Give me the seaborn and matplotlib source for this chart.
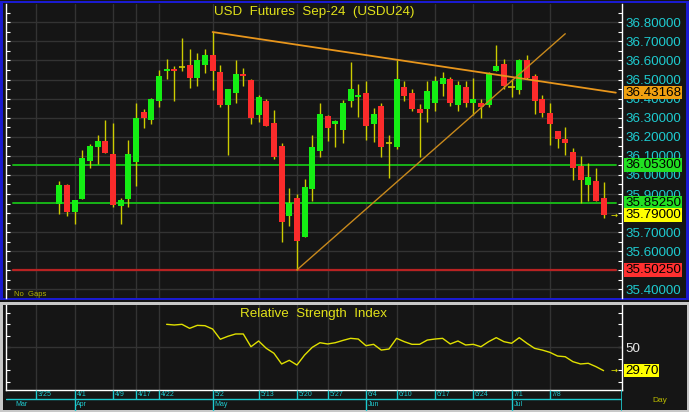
import matplotlib
matplotlib.use("Agg")
import matplotlib.pyplot as plt
import matplotlib.transforms as mtransforms
from matplotlib.patches import Rectangle
from matplotlib.ticker import MultipleLocator, FixedLocator, FixedFormatter, FormatStrFormatter
import numpy as np
import pandas as pd
import seaborn as sns

# ---------------- data ----------------
opens = [35.847, 35.947, 35.807, 35.875, 36.074, 36.147, 36.179, 36.109, 35.837, 35.875,
         36.067, 36.329, 36.287, 36.386, 36.545, 36.557, 36.568, 36.578, 36.509, 36.578,
         36.631, 36.540, 36.365, 36.427, 36.531, 36.500, 36.313, 36.390, 36.270, 36.151,
         35.786, 35.877, 35.676, 35.926, 36.126, 36.310, 36.266, 36.235, 36.386, 36.407,
         36.430, 36.266, 36.360, 36.168, 36.147, 36.461, 36.430, 36.348, 36.348, 36.378,
         36.475, 36.502, 36.365, 36.460, 36.378, 36.379, 36.365, 36.545, 36.580, 36.461,
         36.444, 36.601, 36.519, 36.397, 36.327, 36.229, 36.187, 36.121, 36.048, 35.947,
         35.969, 35.877]
highs = [35.969, 35.950, 35.870, 36.130, 36.161, 36.208, 36.290, 36.270, 35.879, 36.182,
         36.379, 36.348, 36.404, 36.549, 36.610, 36.570, 36.720, 36.662, 36.641, 36.659,
         36.749, 36.578, 36.449, 36.601, 36.561, 36.502, 36.418, 36.400, 36.339, 36.170,
         35.929, 35.899, 35.978, 36.208, 36.379, 36.312, 36.290, 36.392, 36.592, 36.479,
         36.491, 36.351, 36.379, 36.208, 36.604, 36.491, 36.449, 36.371, 36.491, 36.519,
         36.540, 36.514, 36.491, 36.491, 36.510, 36.400, 36.540, 36.680, 36.610, 36.505,
         36.610, 36.631, 36.531, 36.421, 36.379, 36.231, 36.252, 36.139, 36.100, 36.060,
         36.039, 35.961]
lows = [35.795, 35.786, 35.742, 35.873, 36.037, 36.055, 36.114, 35.833, 35.742, 35.833,
        35.943, 36.248, 36.266, 36.357, 36.505, 36.386, 36.545, 36.456, 36.467, 36.536,
        36.447, 36.357, 36.104, 36.378, 36.467, 36.266, 36.278, 36.257, 36.086, 35.646,
        35.734, 35.5025, 35.676, 35.865, 36.095, 36.177, 36.147, 36.165, 36.357, 36.304,
        36.182, 36.174, 36.095, 35.985, 36.138, 36.386, 36.334, 36.095, 36.278, 36.334,
        36.414, 36.360, 36.336, 36.357, 36.313, 36.296, 36.357, 36.545, 36.453, 36.406,
        36.423, 36.505, 36.317, 36.304, 36.156, 36.139, 36.104, 35.973, 35.854, 35.865,
        35.865, 35.776]
closes = [35.947, 35.807, 35.868, 36.090, 36.151, 36.179, 36.116, 35.845, 35.868, 36.109,
          36.299, 36.296, 36.400, 36.519, 36.557, 36.545, 36.568, 36.509, 36.601, 36.631,
          36.545, 36.365, 36.449, 36.530, 36.517, 36.296, 36.409, 36.257, 36.095, 35.755,
          35.851, 35.655, 35.938, 36.147, 36.318, 36.247, 36.282, 36.379, 36.449, 36.421,
          36.257, 36.318, 36.147, 36.168, 36.502, 36.414, 36.348, 36.325, 36.439, 36.491,
          36.510, 36.378, 36.470, 36.378, 36.400, 36.357, 36.528, 36.570, 36.465, 36.461,
          36.601, 36.509, 36.386, 36.327, 36.266, 36.187, 36.168, 36.037, 35.976, 35.987,
          35.865, 35.790]

rsi_first_index = 14
rsi_values = [70.0, 69.4, 70.0, 66.5, 69.1, 68.8, 65.9, 57.0, 59.6, 61.6,
              61.6, 50.5, 55.5, 49.1, 44.8, 35.5, 38.7, 34.6, 43.3, 50.0,
              54.0, 52.9, 54.0, 56.0, 57.8, 57.2, 51.4, 52.6, 47.6, 48.5,
              57.8, 54.9, 52.6, 52.6, 56.3, 57.2, 57.8, 52.9, 55.5, 52.0,
              52.6, 50.5, 54.9, 58.4, 54.9, 53.5, 58.4, 53.5, 49.1, 47.6,
              45.6, 42.4, 41.8, 37.5, 35.5, 36.1, 33.2, 29.7]

date_labels = ['3/25', '4/1', '4/9', '4/17', '4/22', '5/2', '5/13', '5/20', '5/27',
               '6/4', '6/10', '6/17', '6/24', '7/1', '7/8']
date_positions = [-3, 2, 7, 10, 13, 20, 26, 31, 35, 40, 44, 49, 54, 59, 64]
month_labels = ['Mar', 'Apr', 'May', 'Jun', 'Jul']
month_positions = [-6, 2, 20, 40, 59]

support_levels = [36.053, 35.8525]
support_labels = ['36.05300', '35.85250']
low_level = 35.5025
low_label = '35.50250'
last_label = '35.79000'
trend_down_idx = [20, 44]
trend_down_px = [36.749, 36.604]
trend_down_label = '36.43168'
trend_down_label_value = 36.43168
trend_up_idx = [31, 66]
trend_up_px = [35.5025, 36.74]
rsi_label = '29.70'

title = 'USD  Futures  Sep-24  (USDU24)'
rsi_title = 'Relative  Strength  Index'

# ---------------- style ----------------
sns.set_style('dark')
plt.rcParams['font.family'] = ['Liberation Sans', 'DejaVu Sans']

BG = '#151515'
GRID = '#333333'
GREEN = '#14ee14'
RED = '#fb2b2b'
WICK = '#cccc00'
CYAN = '#1ecbd0'
YELLOW = '#e2e21a'

W, H = 689, 412
fig = plt.figure(figsize=(W / 100, H / 100), dpi=100)
fig.patch.set_facecolor(BG)


def px_axes(x0, y0, x1, y1, z=0):
    a = fig.add_axes([x0 / W, 1 - y1 / H, (x1 - x0) / W, (y1 - y0) / H])
    a.set_zorder(z)
    return a


# frames
bg = px_axes(0, 0, W, H, z=-5)
bg.set_xlim(0, W)
bg.set_ylim(H, 0)
bg.axis('off')
bg.add_patch(Rectangle((0, 0.5), W, 299.5, fc='#1a1ad0', ec='none'))
bg.add_patch(Rectangle((2.5, 3.2), W - 5.5, 294.8, fc=BG, ec='none'))
bg.add_patch(Rectangle((0, 302), W, H - 302, fc='#c8c8c8', ec='none'))
bg.add_patch(Rectangle((2.5, 304.5), W - 5, H - 306.5, fc=BG, ec='none'))

FIRST_X, STEP = 59.3, 7.666
PX_L, PX_R = 6, 622
xlim = ((PX_L - FIRST_X) / STEP, (PX_R - FIRST_X) / STEP)

# ---------------- price panel ----------------
ax = px_axes(PX_L, 3.5, PX_R, 297.5, z=1)
ax.set_facecolor(BG)
ax.set_xlim(*xlim)
ax.set_ylim(35.3577, 36.8985)

ax.set_xticks(date_positions)
ax.tick_params(axis='x', length=0, labelbottom=False)
ax.yaxis.set_major_locator(MultipleLocator(0.1))
ax.yaxis.set_minor_locator(MultipleLocator(0.05))
ax.yaxis.set_major_formatter(FormatStrFormatter('%.5f'))
ax.yaxis.set_ticks_position('both')
ax.tick_params(axis='y', which='both', direction='in', length=3, width=0.8, color='white',
               labelleft=False, labelright=True, labelcolor=CYAN, labelsize=9.6, pad=2.2)
ax.grid(True, which='major', color=GRID, lw=1)
for s in ['top', 'bottom']:
    ax.spines[s].set_visible(False)
for s in ['left', 'right']:
    ax.spines[s].set_visible(True)
    ax.spines[s].set_color('white')
    ax.spines[s].set_linewidth(1)

df = pd.DataFrame({'o': opens, 'h': highs, 'l': lows, 'c': closes})
df['i'] = np.arange(len(df))
up = df.c > df.o
dn = df.c < df.o
dj = df.c == df.o
ax.vlines(df.i, df.l, df.h, color=WICK, lw=1, zorder=3)
ax.bar(df.i[up], (df.c - df.o)[up], bottom=df.o[up], width=0.78, color=GREEN, lw=0, zorder=4)
ax.bar(df.i[dn], (df.o - df.c)[dn], bottom=df.c[dn], width=0.78, color=RED, lw=0, zorder=4)
ax.hlines(df.c[dj], df.i[dj] - 0.42, df.i[dj] + 0.42, color=WICK, lw=1.2, zorder=4)

line_x0, line_x1 = 0.0114, 0.990
for lv in support_levels:
    ax.axhline(lv, xmin=line_x0, xmax=line_x1, color='#18b418', lw=1.4, zorder=2)
ax.axhline(low_level, xmin=line_x0, xmax=line_x1, color='#b82222', lw=1.6, zorder=2)

# trendlines
slope = (trend_down_px[1] - trend_down_px[0]) / (trend_down_idx[1] - trend_down_idx[0])
x_end = xlim[0] + line_x1 * (xlim[1] - xlim[0])
td = pd.DataFrame({'x': [trend_down_idx[0], x_end],
                   'y': [trend_down_px[0], trend_down_px[0] + slope * (x_end - trend_down_idx[0])]})
sns.lineplot(data=td, x='x', y='y', ax=ax, color='#e8961c', lw=1.3, zorder=5)
tu = pd.DataFrame({'x': trend_up_idx, 'y': trend_up_px})
sns.lineplot(data=tu, x='x', y='y', ax=ax, color='#c8891c', lw=1.0, zorder=5)
ax.set_xlabel('')
ax.set_ylabel('')

blend = mtransforms.blended_transform_factory(ax.transAxes, ax.transData)
lx = 1 + 3 / (PX_R - PX_L)


def box_label(a, tr, y, text, fc, size=9.6):
    a.text(lx, y, text, transform=tr, ha='left', va='center', fontsize=size, color='black',
           bbox=dict(boxstyle='square,pad=0.06', fc=fc, ec='none'), clip_on=False, zorder=10)


box_label(ax, blend, trend_down_label_value, trend_down_label, '#f0a010')
for lv, lb in zip(support_levels, support_labels):
    box_label(ax, blend, lv, lb, '#22e022')
box_label(ax, blend, closes[-1], last_label, '#ffff00')
box_label(ax, blend, low_level, low_label, '#ff3030')

arrow_x = (614 - PX_L) / (PX_R - PX_L)
ax.text(arrow_x, closes[-1], '→', transform=blend, ha='center', va='center', fontsize=6,
        color='#e8e800', family=['DejaVu Sans'])

ax.text(0.5, 1 - (12 - 3.5) / 294, title, transform=ax.transAxes, ha='center', va='center',
        fontsize=9.6, color=YELLOW)
ax.text((14 - PX_L) / (PX_R - PX_L), 0.006, 'No  Gaps', transform=ax.transAxes, ha='left',
        va='baseline', fontsize=5.5, color='#b4b400')

# ---------------- RSI panel ----------------
ax2 = px_axes(PX_L, 305, PX_R, 389.5, z=1)
ax2.set_facecolor(BG)
ax2.set_xlim(*xlim)
ax2.set_ylim(13.3, 86.8)
rsi_df = pd.DataFrame({'x': np.arange(rsi_first_index, rsi_first_index + len(rsi_values)),
                       'rsi': rsi_values})
sns.lineplot(data=rsi_df, x='x', y='rsi', ax=ax2, color='#e0e000', lw=1.0, zorder=5)
ax2.set_xlabel('')
ax2.set_ylabel('')
ax2.set_xticks(date_positions)
ax2.tick_params(axis='x', length=0, labelbottom=False)
ax2.grid(True, axis='x', color=GRID, lw=1)
ax2.grid(False, axis='y')
ax2.axhline(50, color=GRID, lw=1, zorder=1)
rsi_ticks = [20, 30, 40, 50, 60, 70, 80]
ax2.yaxis.set_major_locator(FixedLocator(rsi_ticks))
ax2.yaxis.set_major_formatter(FixedFormatter(['', '', '', '50', '', '', '']))
ax2.yaxis.set_ticks_position('both')
ax2.tick_params(axis='y', direction='in', length=3, width=0.8, color='white',
                labelleft=False, labelright=True, labelcolor='#e8e8e8', labelsize=9.6, pad=2.2)
ax2.spines['top'].set_visible(False)
for s in ['left', 'right', 'bottom']:
    ax2.spines[s].set_visible(True)
    ax2.spines[s].set_color('white')
    ax2.spines[s].set_linewidth(1)
blend2 = mtransforms.blended_transform_factory(ax2.transAxes, ax2.transData)
box_label(ax2, blend2, rsi_values[-1], rsi_label, '#ffff00')
ax2.text(arrow_x, rsi_values[-1], '→', transform=blend2, ha='center', va='center', fontsize=6,
         color='#e8e800', family=['DejaVu Sans'])
ax2.text(0.5, 1 - (314 - 305) / 84.5, rsi_title, transform=ax2.transAxes, ha='center',
         va='center', fontsize=9.6, color=YELLOW)

# ---------------- date strip ----------------
ax3 = px_axes(PX_L, 389.5, PX_R, 410.5, z=1)
ax3.set_xlim(*xlim)
ax3.set_ylim(1, 0)
ax3.axis('off')
ax3.vlines(date_positions, 0, 0.47, color=CYAN, lw=1)
ax3.axhline(0.47, color=CYAN, lw=1)
ax3.vlines(month_positions[1:], 0.47, 1, color=CYAN, lw=1)
ax3.axvline(xlim[1], color=CYAN, lw=1.2)
off = mtransforms.offset_copy(ax3.transData, fig, x=1.8, y=0, units='dots')
for p, lb in zip(date_positions, date_labels):
    ax3.text(p, 0.26, lb, transform=off, ha='left', va='center', fontsize=5, color=CYAN)
for p, lb in zip(month_positions, month_labels):
    ax3.text(p, 0.73, lb, transform=off, ha='left', va='center', fontsize=5, color=CYAN)

fig.text(660 / W, 1 - 401 / H, 'Day', ha='center', va='center', fontsize=6, color='#b8b800')

fig.savefig('out.png', dpi=100, facecolor=fig.get_facecolor())
